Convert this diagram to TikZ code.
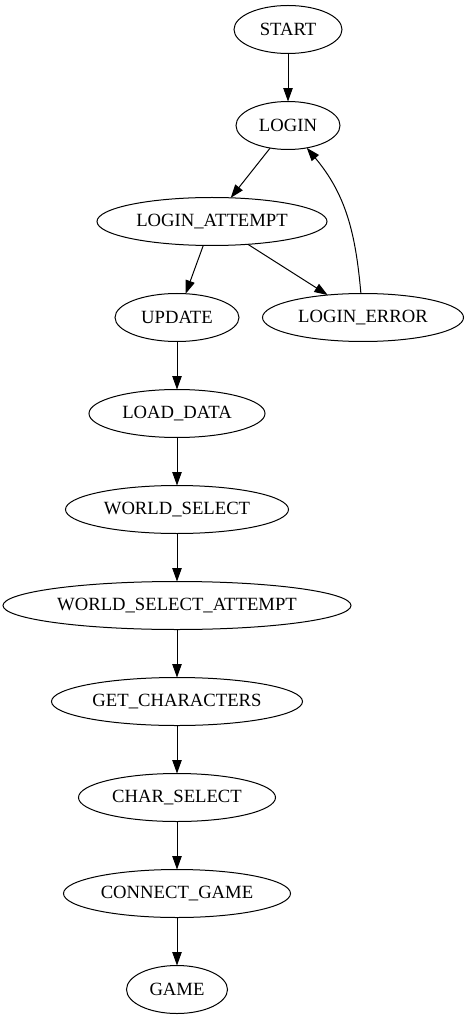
\documentclass[tikz,border=0pt]{standalone}
\usepackage{fontspec}
\setmainfont{Liberation Serif}
\usetikzlibrary{positioning,shapes.geometric,arrows.meta}

\begin{document}
\begin{tikzpicture}[x=0.75pt, y=0.75pt, snode/.style={ellipse,draw=black,line width=0.75pt,inner sep=0pt,outer sep=0pt,minimum height=36pt,font=\fontsize{14}{16}\selectfont}, link/.style={line width=0.75pt,-{Triangle[length=10pt,width=7pt]}}, node distance = 36pt]
	\useasboundingbox (0,0) rectangle (469,-1019);
	\node[snode,minimum width=81pt] (start) at (288,-29.5) {START};
	\node[snode,minimum width=78pt] (login) [below = of start] {LOGIN};
	\node[snode,minimum width=172.5pt] (attempt) [below = of login, xshift=-57pt] {LOGIN\_ATTEMPT};
	\node[snode,minimum width=93pt] (update) [below = of attempt, xshift=-26.25pt] {UPDATE};
	\node[snode,minimum width=150.75pt] (error) [below = of attempt, xshift=113.25pt] {LOGIN\_ERROR};
	\node[snode,minimum width=132pt] (loaddata) [below = of update] {LOAD\_DATA};
	\node[snode,minimum width=167.25pt] (world) [below = of loaddata] {WORLD\_SELECT};
	\node[snode,minimum width=261pt] (worldattempt) [below = of world] {WORLD\_SELECT\_ATTEMPT};
	\node[snode,minimum width=188.25pt] (getchars) [below = of worldattempt] {GET\_CHARACTERS};
	\node[snode,minimum width=147.75pt] (charselect) [below = of getchars] {CHAR\_SELECT};
	\node[snode,minimum width=170.25pt] (connect) [below = of charselect] {CONNECT\_GAME};
	\node[snode,minimum width=75.75pt] (game) [below = of connect] {GAME};
	\draw[link] (start) -- (login);
	\draw[link] (login) -- (attempt);
	\draw[link] (attempt) -- (update);
	\draw[link] (attempt) -- (error);
	\draw[link] (error) to[out=95,in=-50] (login);
	\draw[link] (update) -- (loaddata);
	\draw[link] (loaddata) -- (world);
	\draw[link] (world) -- (worldattempt);
	\draw[link] (worldattempt) -- (getchars);
	\draw[link] (getchars) -- (charselect);
	\draw[link] (charselect) -- (connect);
	\draw[link] (connect) -- (game);
\end{tikzpicture}
\end{document}
